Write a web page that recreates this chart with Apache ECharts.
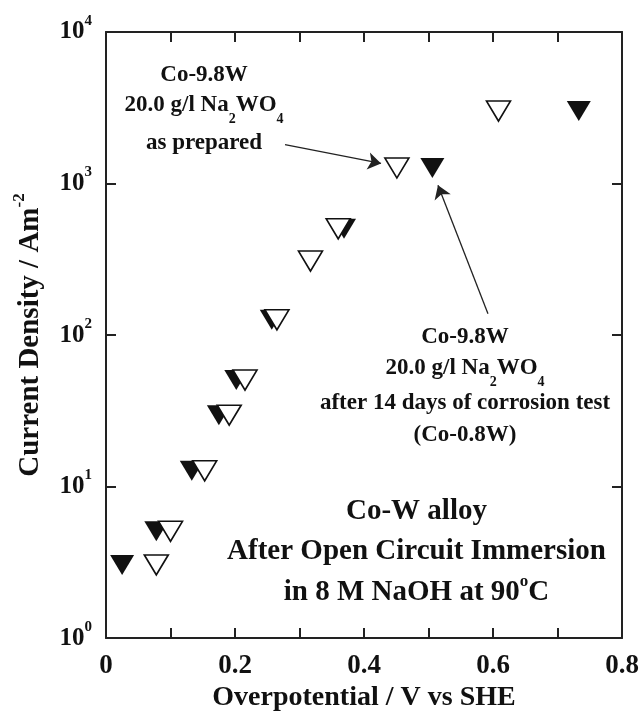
<!DOCTYPE html>
<html>
<head>
<meta charset="utf-8">
<script src="https://cdn.jsdelivr.net/npm/echarts@6/dist/echarts.min.js"></script>
<style>
  html, body { margin: 0; padding: 0; background: #ffffff; }
  #chart { width: 642px; height: 717px; }
</style>
</head>
<body>
<div id="chart"></div>
<script>
// Co-W alloy polarisation: overpotential (V vs SHE) against current density (A m^-2)
const afterCorrosionX = [0.025, 0.078, 0.133, 0.175, 0.202, 0.257, 0.369, 0.506, 0.733];
const afterCorrosionY = [3.04, 5.07, 12.7, 29.6, 50.5, 126, 503, 1267, 3006];
const asPreparedX = [0.078, 0.100, 0.153, 0.191, 0.2155, 0.265, 0.317, 0.360, 0.451, 0.6085];
const asPreparedY = [3.04, 5.07, 12.7, 29.6, 50.5, 126, 308, 503, 1267, 3006];

// Axis labelling
const xTickLabels = ['0', '0.2', '0.4', '0.6', '0.8'];
const yTickExponents = [0, 1, 2, 3, 4];

// Arrows from the sample notes to their points: [from, to] in data units
const arrowAsPrepared = [[0.2775, 1804], [0.4264, 1356]];
const arrowCorroded = [[0.5922, 138], [0.5147, 974]];

// Note anchors in data units
const noteAsPreparedAt = [0.152, 3313];
const noteCorrodedAt = [0.5566, 60.9];
const noteConditionsAt = [0.4814, 3.75];

const F = '"Liberation Serif", "Times New Roman", serif';
const INK = '#111111';

const xy = (xs, ys) => xs.map((x, i) => [x, ys[i]]);
const tri = 'path://M0,0L24,0L12,20Z';

const chart = echarts.init(document.getElementById('chart'), null, { renderer: 'canvas' });

const axisLine = { show: true, onZero: false, lineStyle: { color: '#222', width: 2 } };
const axisTick = { show: true, inside: true, length: 10, lineStyle: { color: '#222', width: 2 } };

const yLabelRich = {
  b: { fontSize: 25, fontFamily: F, fontWeight: 'bold', color: INK, lineHeight: 26, verticalAlign: 'middle' },
  s: { fontSize: 15, fontFamily: F, fontWeight: 'bold', color: INK, lineHeight: 16, verticalAlign: 'middle', padding: [0, 0, 22, 0] }
};

const option = {
  animation: false,
  backgroundColor: '#ffffff',
  grid: { left: 106, right: 20, top: 32, bottom: 72, containLabel: false },
  xAxis: [
    {
      type: 'value', position: 'bottom', min: 0, max: 0.8, interval: 0.1,
      axisLine, axisTick, splitLine: { show: false },
      axisLabel: {
        margin: 14, color: INK, fontSize: 27, fontFamily: F, fontWeight: 'bold',
        formatter: v => {
          const k = Math.round(v * 10);
          return k % 2 === 0 ? xTickLabels[k / 2] : '';
        }
      },
      name: 'Overpotential / V vs SHE', nameLocation: 'middle', nameGap: 43,
      nameTextStyle: { color: INK, fontSize: 28, fontFamily: F, fontWeight: 'bold' }
    },
    {
      type: 'value', position: 'top', min: 0, max: 0.8, interval: 0.1,
      axisLine, axisTick, splitLine: { show: false }, axisLabel: { show: false }
    }
  ],
  yAxis: [
    {
      type: 'log', logBase: 10, min: 1, max: 10000, position: 'left',
      axisLine, axisTick, splitLine: { show: false }, minorTick: { show: false },
      axisLabel: {
        margin: 14,
        formatter: v => {
          const e = Math.round(Math.log10(v));
          return yTickExponents.includes(e) ? '{b|10}{s|' + e + '}' : '';
        },
        rich: yLabelRich
      },
      name: '{t|Current Density / Am}{s|-2}', nameLocation: 'middle', nameGap: 57, nameRotate: 90,
      nameTextStyle: {
        rich: {
          t: { fontSize: 29, fontFamily: F, fontWeight: 'bold', color: INK, lineHeight: 30, verticalAlign: 'middle' },
          s: { fontSize: 17, fontFamily: F, fontWeight: 'bold', color: INK, lineHeight: 17, verticalAlign: 'middle', padding: [0, 0, 20, 0] }
        }
      }
    },
    {
      type: 'log', logBase: 10, min: 1, max: 10000, position: 'right',
      axisLine, axisTick, splitLine: { show: false }, minorTick: { show: false },
      axisLabel: { show: false }
    }
  ],
  series: [
    {
      name: 'after 14 days of corrosion test',
      type: 'scatter', xAxisIndex: 0, yAxisIndex: 0,
      symbol: tri, symbolSize: [24, 20],
      itemStyle: { color: INK, opacity: 1 },
      emphasis: { disabled: true },
      data: xy(afterCorrosionX, afterCorrosionY),
      markLine: {
        silent: true, animation: false,
        symbol: ['none', 'arrow'], symbolSize: 13,
        label: { show: false },
        lineStyle: { color: '#222', width: 1.3, type: 'solid', opacity: 1 },
        itemStyle: { color: '#222' },
        emphasis: { disabled: true },
        data: [
          [{ coord: arrowAsPrepared[0] }, { coord: arrowAsPrepared[1] }],
          [{ coord: arrowCorroded[0] }, { coord: arrowCorroded[1] }]
        ]
      }
    },
    {
      name: 'as prepared',
      type: 'scatter', xAxisIndex: 0, yAxisIndex: 0,
      symbol: tri, symbolSize: [24, 20],
      itemStyle: { color: '#ffffff', borderColor: INK, borderWidth: 1.6, opacity: 1 },
      emphasis: { disabled: true },
      data: xy(asPreparedX, asPreparedY)
    }
  ]
};

chart.setOption(option);

// Text notes, laid out line by line around an anchor point given in data units
const noteRich = size => ({
  n: { fontSize: size, fontFamily: F, fontWeight: 'bold', fill: INK, lineHeight: size + 3, verticalAlign: 'middle' },
  sub: { fontSize: Math.round(size * 0.6), fontFamily: F, fontWeight: 'bold', fill: INK, lineHeight: 14, verticalAlign: 'middle', padding: [30, 0, 0, 0] },
  sup: { fontSize: Math.round(size * 0.58), fontFamily: F, fontWeight: 'bold', fill: INK, lineHeight: 16, verticalAlign: 'middle', padding: [0, 0, 22, 0] }
});

const notes = [
  {
    at: noteAsPreparedAt, size: 23,
    lines: [
      { dy: -30, text: '{n|Co-9.8W}' },
      { dy: 0, text: '{n|20.0 g/l Na}{sub|2}{n|WO}{sub|4}' },
      { dy: 38, text: '{n|as prepared}' }
    ]
  },
  {
    at: noteCorrodedAt, size: 23,
    lines: [
      { dy: -31, text: '{n|Co-9.8W}' },
      { dy: 0, text: '{n|20.0 g/l Na}{sub|2}{n|WO}{sub|4}' },
      { dy: 35, text: '{n|after 14 days of corrosion test}' },
      { dy: 67, text: '{n|(Co-0.8W)}' }
    ]
  },
  {
    at: noteConditionsAt, size: 29,
    lines: [
      { dy: -40, text: '{n|Co-W alloy}' },
      { dy: 0, text: '{n|After Open Circuit Immersion}' },
      { dy: 41, text: '{n|in 8 M NaOH at 90}{sup|o}{n|C}' }
    ]
  }
];

const graphics = [];
notes.forEach(note => {
  const p = chart.convertToPixel({ seriesIndex: 0 }, note.at);
  note.lines.forEach(line => {
    graphics.push({
      type: 'text', silent: true, z: 10,
      x: p[0] + (line.dx || 0), y: p[1] + line.dy,
      style: { text: line.text, rich: noteRich(note.size), align: 'center', verticalAlign: 'middle' }
    });
  });
});
chart.setOption({ graphic: graphics });
</script>
</body>
</html>
